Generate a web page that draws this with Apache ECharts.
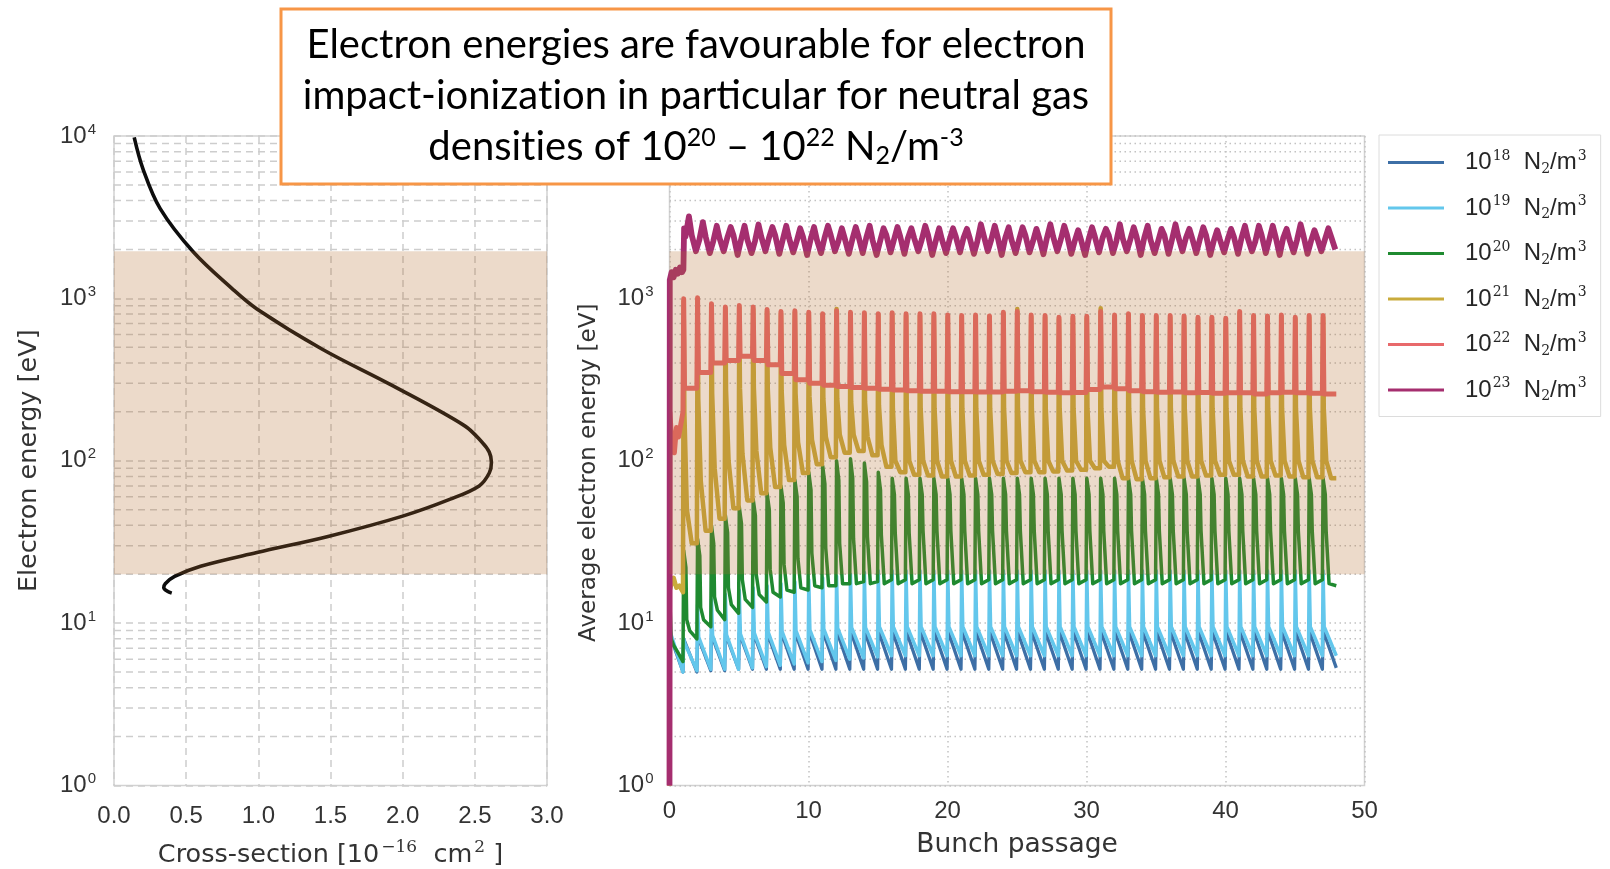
<!DOCTYPE html>
<html><head><meta charset="utf-8">
<script src="https://cdn.jsdelivr.net/npm/echarts@6/dist/echarts.min.js"></script>
<style>html,body{margin:0;padding:0;background:#fff}#c{width:1610px;height:869px}</style>
</head><body><div id="c"></div>
<script>
// ---------------- data: left panel (ionisation cross-section) ----------------
const csX = [0.14, 0.20, 0.32, 0.55, 0.82, 0.99, 1.44, 1.93, 2.43, 2.55, 2.60, 2.615, 2.60, 2.53, 2.33, 2.00, 1.49, 0.99, 0.60, 0.42, 0.355, 0.345, 0.37, 0.40];
const csE = [9800, 6300, 3570, 1930, 1145, 861, 488, 290, 164, 130, 113, 98, 84, 70, 58, 45.6, 34.3, 27.2, 22.4, 19.4, 17.5, 16.5, 15.7, 15.3];

// favourable energy window (shaded band)
const bandLow = 20, bandHigh = 1950;

// tick values
const leftXTicks = [0, 0.5, 1.0, 1.5, 2.0, 2.5, 3.0];
const rightXTicks = [0, 10, 20, 30, 40, 50];
const minorY = [2,3,4,5,6,7,8,9,20,30,40,50,60,70,80,90,200,300,400,500,600,700,800,900,2000,3000,4000,5000,6000,7000,8000,9000];

// ---------------- data: right panel (average electron energy) ----------------
const densities = ['18','19','20','21','22','23'];

// start of the simulation (before first bunch), [bunch passage, eV]
const d18Start = [[0,1],[0.02,8.5],[0.97,5.0]];
const c19Start = [[0,1],[0.02,9],[0.25,7.8],[0.97,5.0]];
const g20Start = [[0,1],[0.02,14.5],[0.12,8],[0.3,7.3],[0.6,6.6],[0.97,5.8]];
const y21Start = [[0,1],[0.02,16],[0.15,17.5],[0.3,19],[0.5,16.5],[0.7,17],[0.97,15.5]];
const r22Start = [[0,1],[0.02,200],[0.1,160],[0.2,125],[0.35,112],[0.5,160],[0.65,140],[0.8,165],[0.97,200]];
const m23Start = [[0,1],[0.02,1300],[0.15,1450],[0.3,1350],[0.45,1500],[0.6,1420],[0.75,1550],[0.9,1450],[1.0,1500],[1.05,2700]];

// per-bunch values (bunch 1 .. 47)
const d18Top = [8.0,8.3,8.5,8.6,8.7,8.8,8.8,8.9,8.9,9.0, 9.0,9.0,9.0,9.0,9.0,9.0,9.0,9.0,9.0,9.0, 9.0,9.0,9.0,9.0,9.0,9.0,9.0,9.0,9.0,9.0, 9.0,9.0,9.0,9.0,9.0,9.0,9.0,9.0,9.0,9.0, 9.0,9.0,9.0,9.0,9.0,9.0,9.0];
const d18Bot = [5.0,5.1,5.1,5.2,5.2,5.2,5.2,5.2,5.2,5.2, 5.2,5.2,5.2,5.2,5.2,5.2,5.2,5.2,5.2,5.2, 5.2,5.2,5.2,5.2,5.2,5.2,5.2,5.2,5.2,5.2, 5.2,5.2,5.2,5.2,5.2,5.2,5.2,5.2,5.2,5.2, 5.2,5.2,5.2,5.2,5.2,5.2,5.3];

const c19Spike = [8,13,14,15,16,16.5,17,17.5,18,18.5, 19,19.5,20,20.5,21,21,21,21,21,21, 21,21,21,21,21,21,21,21,21,21, 21,21,21,21,21,21,21,21,21,21, 21,21,21,21,21,21,21];
const c19Hump = [7.5,8.2,8.4,8.5,8.6,8.7,8.8,8.9,9.0,9.1, 9.2,9.3,9.4,9.4,9.5,9.5,9.5,9.5,9.5,9.5, 9.5,9.5,9.5,9.5,9.5,9.5,9.5,9.5,9.5,9.5, 9.5,9.5,9.5,9.5,9.5,9.5,9.5,9.5,9.5,9.5, 9.5,9.5,9.5,9.5,9.5,9.5,9.5];
const c19Bot = [5.1,5.2,5.2,5.2,5.3,5.4,5.5,5.6,5.7,5.8, 5.9,6.0,6.1,6.2,6.3,6.3,6.3,6.3,6.3,6.3, 6.3,6.3,6.3,6.3,6.3,6.3,6.3,6.3,6.3,6.3, 6.3,6.3,6.3,6.3,6.3,6.3,6.3,6.3,6.3,6.3, 6.3,6.3,6.3,6.3,6.3,6.3,6.3];

const g20Peak = [28,33,40,46,52,58,63,70,76,85, 93,100,103,97,85,78,78,78,78,78, 78,78,78,78,78,78,78,78,78,78, 78,78,78,78,78,78,78,78,78,78, 78,78,78,78,78,78,78];
const g20Hold = [22,26,31,36,41,46,50,55,60,66, 72,76,78,74,66,62,62,62,62,62, 62,62,62,62,62,62,62,62,62,62, 62,62,62,62,62,62,62,62,62,62, 62,62,62,62,62,62,62];
const g20Sh = [10.5,12.5,14.5,16.5,18.5,20,21.5,23,25,27, 29,31,33,34,35,36,36,37,37,37, 37,37,37,37,37,37,37,37,37,37, 37,37,37,37,37,37,37,37,37,37, 37,37,37,37,37,37,37];
const g20Mid = [9,10.5,12,13,14,15,15.5,16,16.5,17, 17,17.5,17.5,17.5,17.5,17.5,17.5,17.5,17.5,17.5, 17.5,17.5,17.5,17.5,17.5,17.5,17.5,17.5,17.5,17.5, 17.5,17.5,17.5,17.5,17.5,17.5,17.5,17.5,17.5,17.5, 17.5,17.5,17.5,17.5,17.5,17.5,17.5];
const g20End = [8,9.5,10.5,11.5,12.5,13.5,14.5,15.5,16,16.5, 17,17.5,18,18,18.5,18.5,18.5,18.5,18.5,18.5, 18.5,18.5,18.5,18.5,18.5,18.5,18.5,18.5,18.5,18.5, 18.5,18.5,18.5,18.5,18.5,18.5,18.5,18.5,18.5,18.5, 18.5,18.5,18.5,18.5,18.5,18.5,17];

const y21Peak = [960,980,900,860,880,860,830,810,820,800, 790,860,800,795,785,795,785,785,785,770, 765,770,760,800,860,770,765,745,755,755, 870,770,785,765,765,765,760,745,745,735, 810,765,760,770,745,765,765];
const y21Drop = [200,240,260,270,280,280,280,270,260,250, 240,240,230,230,220,210,210,210,210,210, 210,210,210,210,210,210,210,210,210,210, 210,210,210,210,210,210,210,210,210,210, 210,210,210,210,210,210,210];
const y21Knee = [50,75,90,100,110,115,120,125,130,135, 140,145,145,140,125,100,100,100,100,100, 100,100,100,100,100,100,100,100,100,100, 100,100,100,100,100,100,100,100,100,100, 100,100,100,100,100,100,100];
const y21Base = [31,37,44,51,57,63,69,76,84,95, 105,112,115,108,92,85,82,81,80,80, 81,82,83,84,85,85,86,87,88,90, 92,78,77,78,79,80,80,81,82,82, 80,80,81,80,79,79,78];

const r22Peak = [995,1010,925,885,905,885,855,830,840,820, 805,840,820,815,805,815,805,805,805,790, 785,790,780,820,830,790,785,765,775,775, 830,790,805,785,785,785,780,765,765,755, 830,785,780,790,765,785,785];
const r22Base = [280,350,400,415,440,415,390,345,315,300, 292,287,283,280,276,273,270,268,268,266, 266,265,265,268,270,266,264,262,263,275, 285,278,270,266,264,265,262,263,260,262, 262,258,262,264,262,260,258];

const m23A  = [2400,2300,2250,2350,2300,2250,2350,2300,2250,2300, 2350,2250,2300,2350,2250,2300,2350,2300,2250,2300, 2350,2250,2300,2350,2300,2250,2350,2300,2250,2300, 2350,2250,2300,2350,2250,2300,2350,2300,2250,2300, 2350,2250,2300,2350,2300,2250,2300];
const m23Hi = [3200,2950,2800,2750,2800,2850,2750,2800,2700,2750, 2800,2700,2750,2800,2700,2750,2700,2800,2700,2700, 2680,2860,2800,2740,2740,2680,2860,2800,2630,2740, 2680,2860,2740,2800,2680,2860,2680,2740,2630,2680, 2800,2800,2800,2680,2860,2630,2700];
const m23B  = [2450,2400,2350,2450,2300,2400,2450,2350,2400,2300, 2450,2350,2400,2300,2450,2400,2350,2450,2300,2400, 2350,2450,2400,2300,2450,2350,2400,2450,2300,2400, 2450,2350,2400,2300,2450,2400,2350,2450,2300,2400, 2350,2450,2400,2300,2450,2350,2400];
const m23Lo = [1950,1900,1950,1850,1900,1950,1880,1920,1850,1900, 1950,1880,1900,1850,1920,1880,1950,1850,1900,1920, 1880,1950,1850,1900,1920,1870,1950,1880,1850,1920, 1900,1950,1850,1900,1880,1950,1900,1850,1920,1880, 1950,1900,1850,1920,1880,1950,2000];

// position of each key value inside one bunch period (fraction of the period)
const phase18 = [0.02, 0.97];
const phase19 = [0.02, 0.1, 0.97];
const phase20 = [0.02, 0.18, 0.24, 0.45, 0.97];
const phase21 = [0.02, 0.07, 0.25, 0.6, 0.97];
const phase22 = [0.02, 0.08, 0.97];
const phase23 = [0.15, 0.4, 0.6, 0.9];

function build(start, phases, arrays) {
  const pts = start.slice();
  for (let i = 0; i < arrays[0].length; i++) {
    const n = i + 1;
    phases.forEach((p, k) => pts.push([n + p, arrays[k][i]]));
  }
  return pts;
}

const colors = {'18':'#3d6fa6','19':'#63c7ec','20':'#1f8a30','21':'#c9ab3c','22':'#e8696b','23':'#a52e6f'};
const widths = {'18':3.3,'19':3.5,'20':3.5,'21':4.5,'22':5,'23':5.8};
const seriesData = {
  '18': build(d18Start, phase18, [d18Top, d18Bot]),
  '19': build(c19Start, phase19, [c19Spike, c19Hump, c19Bot]),
  '20': build(g20Start, phase20, [g20Peak, g20Hold, g20Sh, g20Mid, g20End]),
  '21': build(y21Start, phase21, [y21Peak, y21Drop, y21Knee, y21Base, y21Base]),
  '22': build(r22Start, phase22, [r22Peak, r22Base, r22Base]),
  '23': build(m23Start, phase23, [m23A, m23Hi, m23B, m23Lo])
};

// ---------------- styling ----------------
const FONT = 'Liberation Sans';
const NFONT = 'DejaVu Sans';
const TXT = '#333333';
const tickRich = {
  b: {fontSize: 24, fontFamily: FONT, color: TXT},
  s: {fontSize: 15, fontFamily: FONT, color: TXT, padding: [0, 0, 13, 1]}
};
const logLabel = v => '{b|10}{s|' + Math.round(Math.log10(v)) + '}';
const BAND = 'rgba(179,107,43,0.25)';

function bandSeries(xi, xmin, xmax) {
  return {
    type: 'custom', xAxisIndex: xi, yAxisIndex: xi, z: 10, silent: true,
    data: [[xmin, xmax, bandLow, bandHigh]],
    encode: {x: [0, 1], y: [2, 3]},
    renderItem: (params, api) => {
      const p1 = api.coord([api.value(0), api.value(3)]);
      const p2 = api.coord([api.value(1), api.value(2)]);
      return {type: 'rect', shape: {x: p1[0], y: p1[1], width: p2[0] - p1[0], height: p2[1] - p1[1]}, style: {fill: BAND}};
    }
  };
}
function minorGrid(xi, lineStyle) {
  return {
    type: 'custom', xAxisIndex: xi, yAxisIndex: xi, z: 1, silent: true,
    data: minorY.map(v => [0, v]),
    encode: {x: 0, y: 1},
    renderItem: (params, api) => {
      const cs = params.coordSys;
      const y = api.coord([0, api.value(1)])[1];
      return {type: 'line', shape: {x1: cs.x, y1: y, x2: cs.x + cs.width, y2: y}, style: Object.assign({fill: null}, lineStyle)};
    }
  };
}

const dashStyle = {type: [7, 5], color: '#cdcdcd', width: 1.5};
const dotStyle = {type: [1.5, 3.5], color: '#c2c2c2', width: 1.5};

const chart = echarts.init(document.getElementById('c'), null, {renderer: 'canvas'});

const series = [
  minorGrid(0, {stroke: '#cdcdcd', lineWidth: 1.5, lineDash: [7, 5]}),
  minorGrid(1, {stroke: '#c2c2c2', lineWidth: 1.5, lineDash: [1.5, 3.5]}),
  {
    type: 'line', name: 'cs', xAxisIndex: 0, yAxisIndex: 0, z: 3,
    data: csX.map((x, i) => [x, csE[i]]), smooth: 0.35, showSymbol: false, symbol: 'none',
    lineStyle: {color: '#0d0d0d', width: 3.6}, silent: true
  }
];
densities.forEach(d => {
  series.push({
    type: 'line', name: d, xAxisIndex: 1, yAxisIndex: 1, z: 3,
    data: seriesData[d], showSymbol: false, symbol: 'none', color: colors[d],
    lineStyle: {color: colors[d], width: widths[d], join: 'round'}, silent: true
  });
});
series.push(bandSeries(0, 0, 3));
series.push(bandSeries(1, 0, 50));

const option = {
  animation: false,
  backgroundColor: '#ffffff',
  grid: [
    {left: 114, top: 136, width: 433, height: 649.5, show: true, borderColor: '#d2d2d2', borderWidth: 1.5, backgroundColor: 'transparent', containLabel: false, outerBoundsMode: 'none'},
    {left: 669.5, top: 136, width: 695, height: 649.5, show: true, borderColor: '#d2d2d2', borderWidth: 1.5, backgroundColor: 'transparent', containLabel: false, outerBoundsMode: 'none'}
  ],
  xAxis: [
    {
      gridIndex: 0, type: 'value', min: leftXTicks[0], max: leftXTicks[leftXTicks.length - 1], interval: 0.5,
      axisLine: {show: false}, axisTick: {show: false},
      axisLabel: {fontSize: 24, fontFamily: FONT, color: TXT, margin: 19, formatter: v => v.toFixed(1)},
      splitLine: {show: true, lineStyle: dashStyle},
      name: 'Cross-section [10{s|−16}  cm{s|2} ]', nameLocation: 'middle', nameGap: 54,
      nameTextStyle: {fontSize: 25.5, fontFamily: NFONT, color: TXT, rich: {s: {fontSize: 17, fontFamily: 'DejaVu Serif', color: TXT, padding: [0, 0, 14, 2]}}}
    },
    {
      gridIndex: 1, type: 'value', min: rightXTicks[0], max: rightXTicks[rightXTicks.length - 1], interval: 10,
      axisLine: {show: false}, axisTick: {show: false},
      axisLabel: {fontSize: 24, fontFamily: FONT, color: TXT, margin: 14},
      splitLine: {show: true, lineStyle: dotStyle},
      name: 'Bunch passage', nameLocation: 'middle', nameGap: 46,
      nameTextStyle: {fontSize: 26.5, fontFamily: NFONT, color: TXT}
    }
  ],
  yAxis: [
    {
      gridIndex: 0, type: 'log', logBase: 10, min: 1, max: 10000,
      axisLine: {show: false}, axisTick: {show: false},
      axisLabel: {formatter: logLabel, rich: tickRich, margin: 18},
      splitLine: {show: true, lineStyle: dashStyle},
      name: 'Electron energy [eV]', nameLocation: 'middle', nameGap: 72, nameRotate: 90,
      nameTextStyle: {fontSize: 25.5, fontFamily: NFONT, color: TXT}
    },
    {
      gridIndex: 1, type: 'log', logBase: 10, min: 1, max: 10000,
      axisLine: {show: false}, axisTick: {show: false},
      axisLabel: {formatter: logLabel, rich: tickRich, margin: 16},
      splitLine: {show: true, lineStyle: dotStyle},
      name: 'Average electron energy [eV]', nameLocation: 'middle', nameGap: 69, nameRotate: 90,
      nameTextStyle: {fontSize: 23, fontFamily: NFONT, color: TXT, padding: [0, 24, 0, 0]}
    }
  ],
  legend: {
    data: densities, orient: 'vertical', left: 1379, top: 135,
    icon: 'rect', itemWidth: 56, itemHeight: 3, itemGap: 18.5,
    padding: [14, 14, 13, 9], borderColor: '#dcdcdc', borderWidth: 1, backgroundColor: '#fff',
    selectedMode: false,
    formatter: name => '{a|10}{s|' + name + '}{t|  N}{u|2}{t|/m}{s|3}',
    textStyle: {
      fontSize: 24, fontFamily: FONT, color: '#262626',
      rich: {
        a: {fontSize: 24, fontFamily: FONT, color: '#262626', padding: [0, 0, 0, 16]},
        t: {fontSize: 24, fontFamily: FONT, color: '#262626'},
        s: {fontSize: 14, fontFamily: 'DejaVu Serif', color: '#262626', padding: [0, 0, 13, 1]},
        u: {fontSize: 14, fontFamily: 'DejaVu Serif', color: '#262626', padding: [13, 0, 0, 0]}
      }
    }
  },
  series: series,
  graphic: [{
    type: 'group', z: 100, children: [
      {type: 'rect', z: 100, shape: {x: 281, y: 9, width: 830, height: 175}, style: {fill: '#ffffff', stroke: '#f79646', lineWidth: 3}},
      {type: 'text', z: 101, x: 696, y: 96, style: {
        // "t" kept as its own rich token so the font does not fuse "ti" into a ligature
        text: 'Electron energies are favourable for electron\nimpact-ioniza{p|t}ion in particular for neutral gas\ndensi{p|t}ies of 10{s|20} – 10{s|22} N{u|2}/m{s|-3}',
        fill: '#000', fontSize: 40, fontFamily: 'Lato', align: 'center', verticalAlign: 'middle', lineHeight: 51,
        rich: {
          p: {fontSize: 40, fontFamily: 'Lato', fill: '#000'},
          s: {fontSize: 25, fontFamily: 'Lato', fill: '#000', padding: [0, 0, 19, 0]},
          u: {fontSize: 25, fontFamily: 'Lato', fill: '#000', padding: [17, 0, 0, 0]}
        }
      }}
    ]
  }]
};
chart.setOption(option);
</script></body></html>
